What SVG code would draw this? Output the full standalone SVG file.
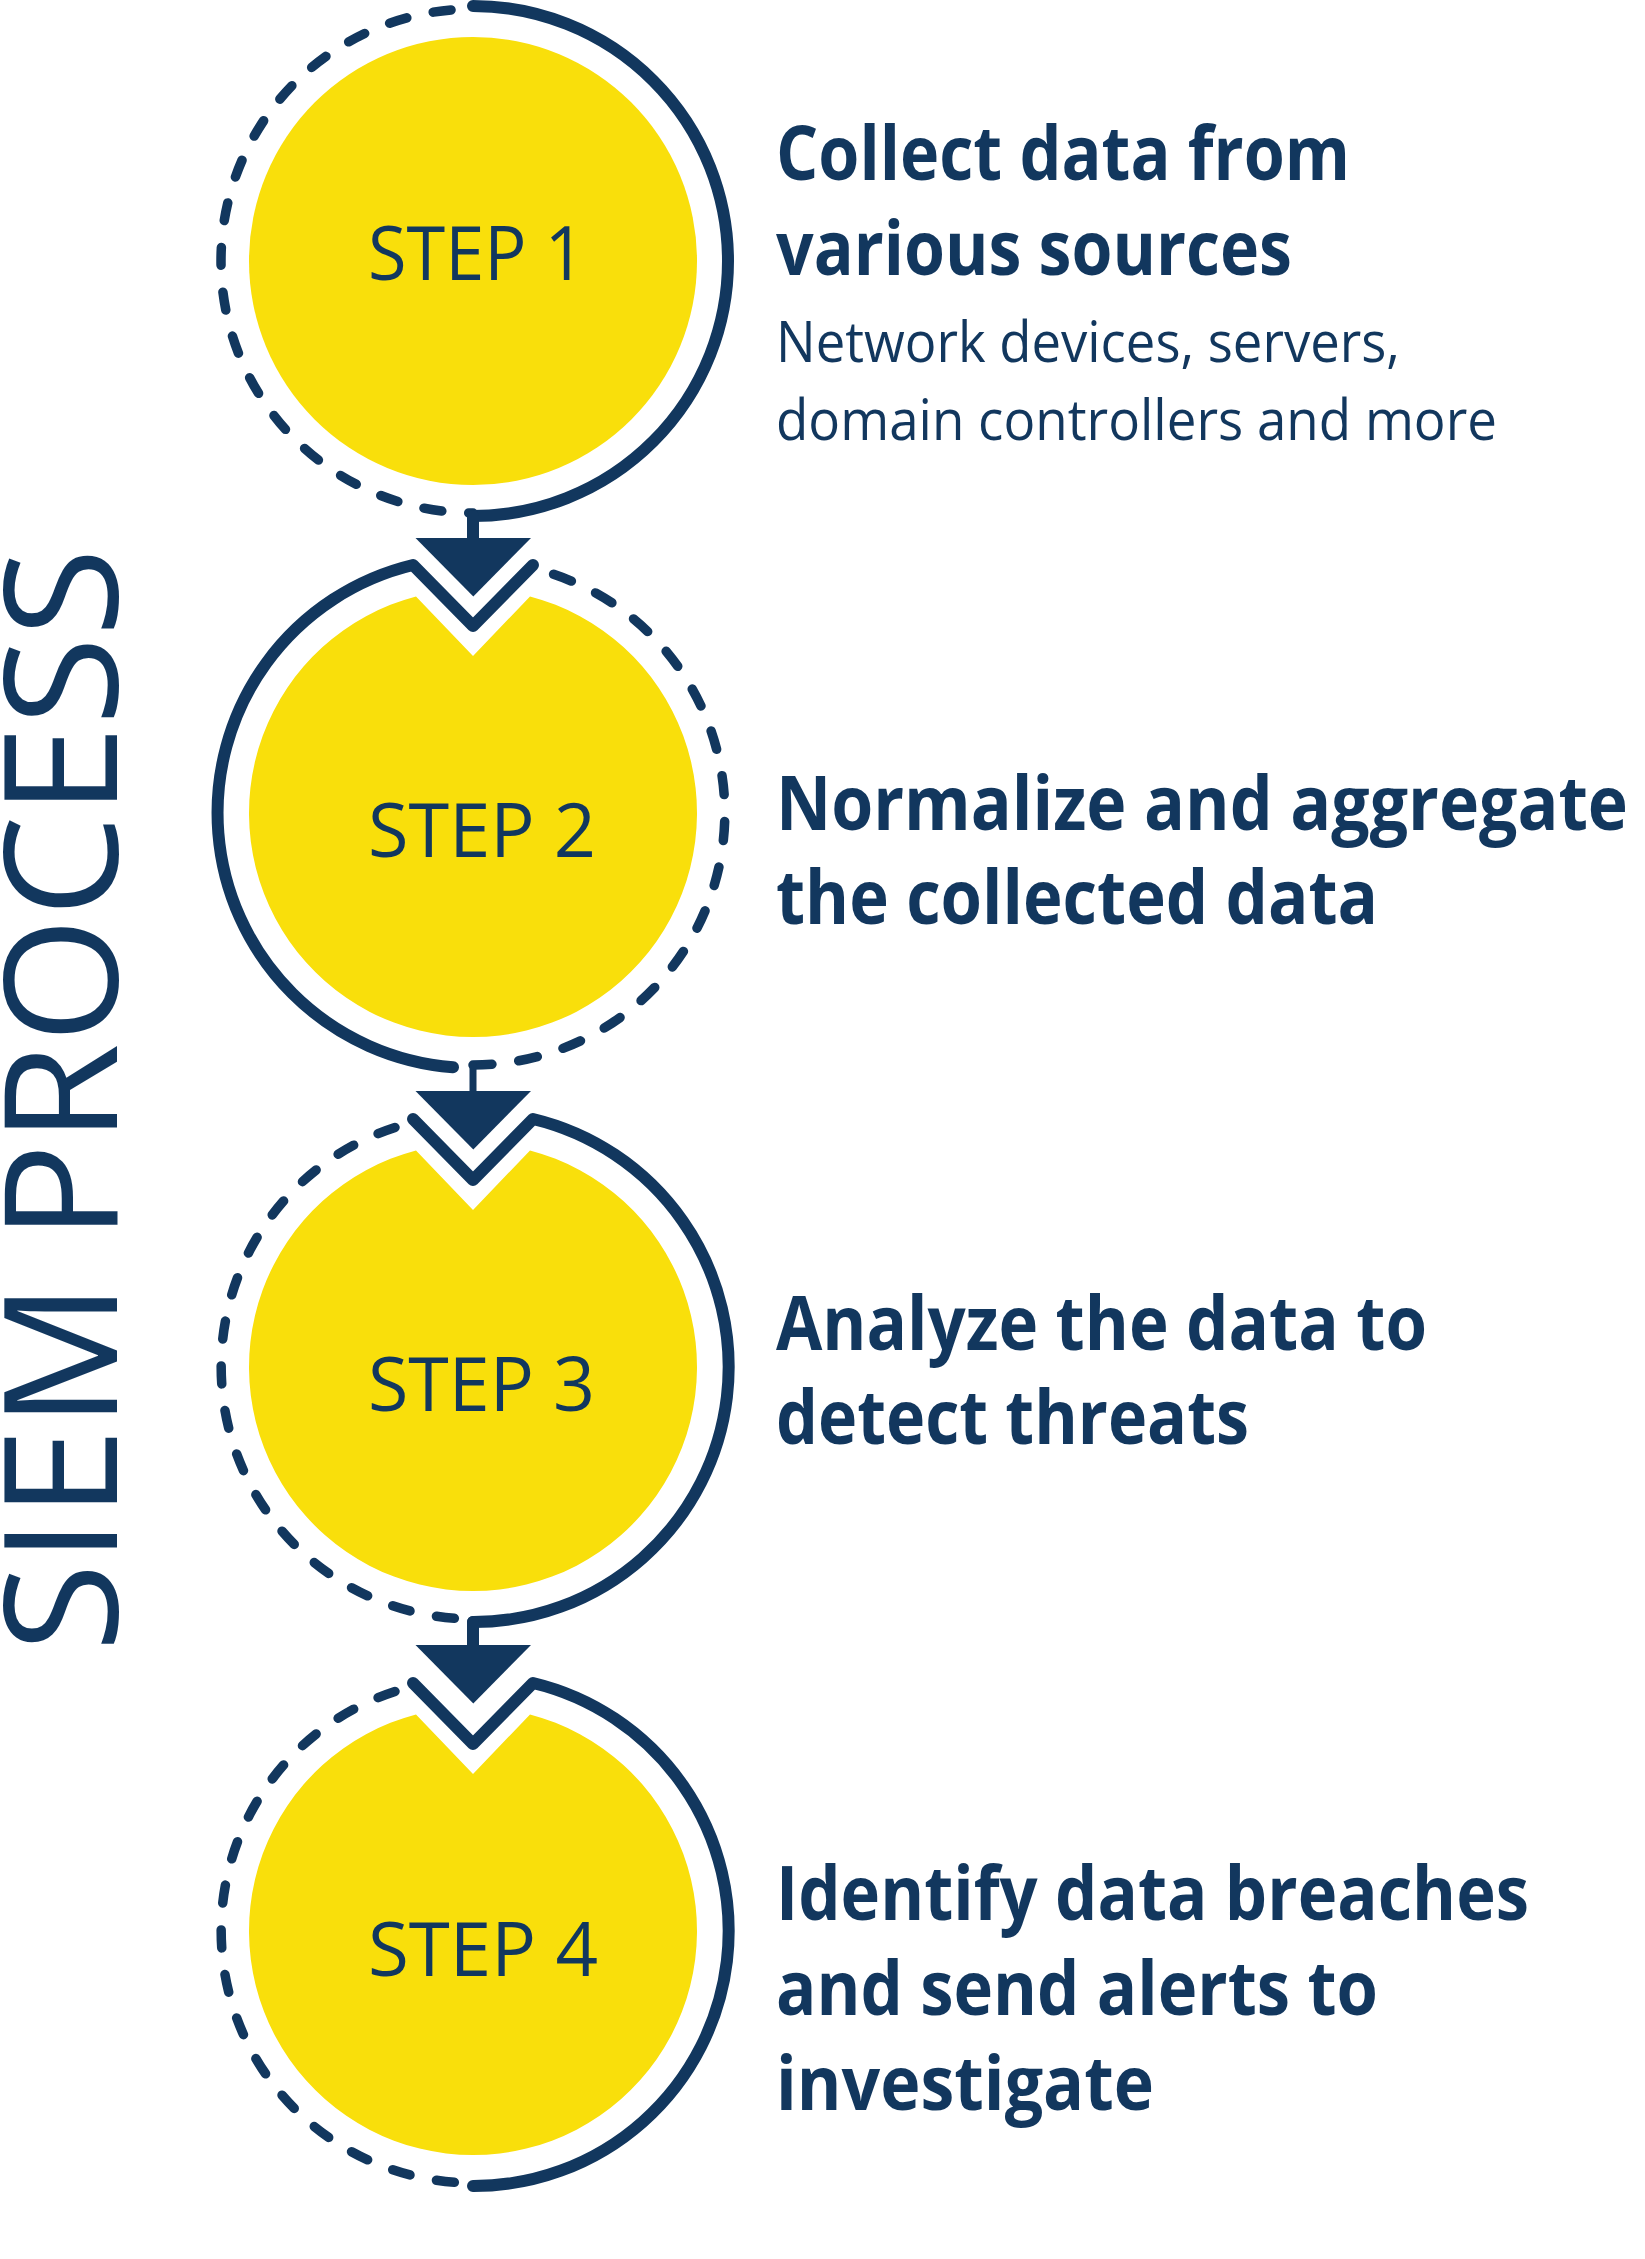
<svg xmlns="http://www.w3.org/2000/svg" width="1645" height="2259" viewBox="0 0 1645 2259">
<style>
.y{fill:#F9DF0B}
.ring{fill:none;stroke:#12375E;stroke-width:12;stroke-linecap:round;stroke-linejoin:round}
.dash{fill:none;stroke:#12375E;stroke-width:9.5;stroke-linecap:round}
.stem{fill:none;stroke:#12375E;stroke-linecap:round;stroke-linejoin:round}
.arrow{fill:#12375E}
.step{font-family:"Open Sans","Noto Sans",sans-serif;font-size:75px;fill:#12375E}
.h{font-family:"Open Sans","Noto Sans",sans-serif;font-weight:700;font-size:76px;fill:#12375E}
.sub{font-family:"Open Sans","Noto Sans",sans-serif;font-size:57px;fill:#12375E}
.title{font-family:"Open Sans","Noto Sans",sans-serif;font-size:158px;fill:#12375E}
</style>
<rect width="1645" height="2259" fill="#ffffff"/>

<g id="title">
<text class="title" transform="translate(117,1652) rotate(-90)" x="0" y="0" textLength="1104" lengthAdjust="spacingAndGlyphs">SIEM PROCESS</text>
</g>

<g id="step1">
<circle class="y" cx="473" cy="261" r="224"/>
<path class="ring" d="M473 6 A255 255 0 0 1 473 516"/>
<path class="dash" d="M473 9 A252 252 0 0 0 473 513" stroke-dasharray="18 27" stroke-dashoffset="23"/>
<text class="step" x="368" y="280" textLength="217" lengthAdjust="spacingAndGlyphs">STEP 1</text>
<text class="h" x="776" y="180" textLength="574" lengthAdjust="spacingAndGlyphs">Collect data from</text>
<text class="h" x="776" y="275" textLength="516" lengthAdjust="spacingAndGlyphs">various sources</text>
<text class="sub" x="776" y="362" textLength="624" lengthAdjust="spacingAndGlyphs">Network devices, servers,</text>
<text class="sub" x="776" y="440" textLength="721" lengthAdjust="spacingAndGlyphs">domain controllers and more</text>
</g>

<g id="step2">
<path class="y" d="M416 596.4 L473 656 L530 596.4 A224 224 0 1 1 416 596.4 Z"/>
<path class="ring" d="M533 565 L473 626 L413 565 A255 255 0 0 0 453 1067.2"/>
<path class="dash" d="M473 1065 A252 252 0 0 0 531.8 568" stroke-dasharray="19 27"/>
<text class="step" x="368" y="857" textLength="228" lengthAdjust="spacingAndGlyphs">STEP 2</text>
<text class="h" x="776" y="830" textLength="852" lengthAdjust="spacingAndGlyphs">Normalize and aggregate</text>
<text class="h" x="776" y="924" textLength="602" lengthAdjust="spacingAndGlyphs">the collected data</text>
</g>

<g id="step3">
<path class="y" d="M416 1150.4 L473 1210 L530 1150.4 A224 224 0 1 1 416 1150.4 Z"/>
<path class="ring" d="M413 1119 L473 1180 L533 1119 A255 255 0 0 1 473 1622"/>
<path class="dash" d="M414.2 1122 A252 252 0 0 0 473 1619" stroke-dasharray="18 27" stroke-dashoffset="25"/>
<text class="step" x="368" y="1411" textLength="227" lengthAdjust="spacingAndGlyphs">STEP 3</text>
<text class="h" x="776" y="1350" textLength="651" lengthAdjust="spacingAndGlyphs">Analyze the data to</text>
<text class="h" x="776" y="1444" textLength="473" lengthAdjust="spacingAndGlyphs">detect threats</text>
</g>

<g id="step4">
<path class="y" d="M416 1714.4 L473 1774 L530 1714.4 A224 224 0 1 1 416 1714.4 Z"/>
<path class="ring" d="M413 1683 L473 1744 L533 1683 A255 255 0 0 1 473 2186"/>
<path class="dash" d="M414.2 1686 A252 252 0 0 0 473 2183" stroke-dasharray="18 27" stroke-dashoffset="25"/>
<text class="step" x="368" y="1976" textLength="230" lengthAdjust="spacingAndGlyphs">STEP 4</text>
<text class="h" x="776" y="1920" textLength="753" lengthAdjust="spacingAndGlyphs">Identify data breaches</text>
<text class="h" x="776" y="2015" textLength="602" lengthAdjust="spacingAndGlyphs">and send alerts to</text>
<text class="h" x="776" y="2110" textLength="378" lengthAdjust="spacingAndGlyphs">investigate</text>
</g>

<g id="connectors">
<path class="stem" stroke-width="12" d="M473 516 L473 540"/>
<polygon class="arrow" points="415.5,538 531,538 473.3,596.5"/>
<path class="stem" stroke-width="7" stroke-linecap="butt" d="M473 1065 L473 1092"/>
<polygon class="arrow" points="415.5,1091 531,1091 473.3,1149.5"/>
<path class="stem" stroke-width="12" d="M473 1622 L473 1647"/>
<polygon class="arrow" points="415.5,1645 531,1645 473.3,1703.5"/>
</g>
</svg>
